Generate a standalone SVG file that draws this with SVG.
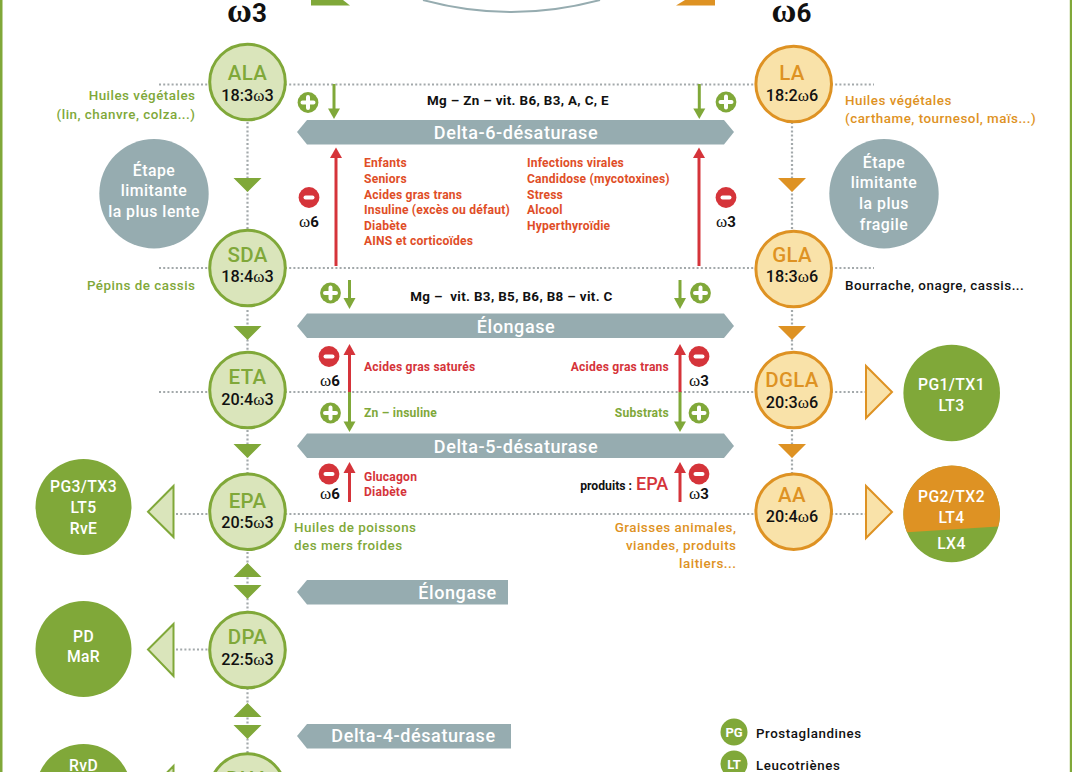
<svg xmlns="http://www.w3.org/2000/svg" width="1072" height="772" viewBox="0 0 1072 772">
<style>
text{font-family:"Roboto","Liberation Sans",sans-serif;font-weight:500}
.dot{stroke:#a3a9ab;stroke-width:2.2;stroke-dasharray:2 2.2;fill:none}
.g{fill:#80a839}.o{fill:#de9223}.r{fill:#d5343a}.w{fill:#fff}.b{fill:#96acb0}
.ng{fill:#dae5bb;stroke:#80a839;stroke-width:3}
.no{fill:#f9e2a9;stroke:#de9223;stroke-width:3}
.nm{font-size:20.5px;text-anchor:middle;letter-spacing:.3px}
.fa{font-size:16.2px;text-anchor:middle;fill:#111}
text .om{font-family:"Liberation Serif",serif;font-size:17px;font-weight:400}
.src{font-size:13.4px;letter-spacing:.5px}
.enz{font-size:18px;fill:#fff;text-anchor:middle;letter-spacing:.6px}
.red{font-size:12.1px;font-weight:700;letter-spacing:.2px}
.blk{font-size:13.4px;font-weight:700;fill:#111;text-anchor:middle;letter-spacing:.35px;white-space:pre}
.lim{font-size:15.8px;fill:#fff;text-anchor:middle;letter-spacing:.5px}
.eic{font-size:15.7px;fill:#fff;text-anchor:middle;letter-spacing:.4px}
.sig{font-size:15px;font-weight:700;fill:#111;text-anchor:middle}
.lg{font-size:13.3px;fill:#111;letter-spacing:.6px}
.ttl{font-size:26px;font-weight:700;text-anchor:middle;fill:#111}
text .tom{font-family:"Liberation Serif",serif;font-size:34px;font-weight:700}
.pic{font-size:13px;font-weight:700;fill:#fff;text-anchor:middle}
.prod{font-size:12.2px;font-weight:700;fill:#111;text-anchor:end}
.epa{font-size:18px;font-weight:500}
.gs{stroke:#80a839;stroke-width:3;fill:none}
.rs{stroke:#d5343a;stroke-width:3;fill:none}
</style>
<defs>
<g id="plus"><circle r="10.4" class="g"/><path d="M-5.500 0H5.500M0-5.500V5.500" stroke="#fff" stroke-width="4" stroke-linecap="round"/></g>
<g id="minus"><circle r="10.4" class="r"/><path d="M-3.500 0H3.500" stroke="#fff" stroke-width="4" stroke-linecap="round"/></g>
</defs>
<rect x="0" y="-4" width="2.500" height="780" class="g"/>
<rect x="1069.800" y="-4" width="2.500" height="780" class="g"/>

<g id="top-shapes">
<path d="M311 0H343L350 5.500H311Z" class="g"/>
<path d="M685 0H715V5.500H676Z" class="o"/>
<path d="M423 0Q511 24 600 0" fill="none" stroke="#96acb0" stroke-width="2"/>
</g>
<text class="ttl" x="247" y="22"><tspan class="tom">ω</tspan>3</text>
<text class="ttl" x="791.500" y="22"><tspan class="tom">ω</tspan>6</text>

<g id="connectors">
<path class="dot" d="M159 84.500H874M159 268H874M159 392H866M176 514H866M176 649.500H210"/>
<path class="dot" d="M247.500 122V232M247.500 310V354M247.500 430V474M247.500 552V612M247.500 688V754"/>
<path class="dot" d="M792 122V232M792 310V354M792 430V474"/>
<g class="g">
<path class="gs" d="M334 84V110"/><path d="M328 108.500H340L334 119Z"/>
<path class="gs" d="M699.300 84V110"/><path d="M693.300 108.500H705.300L699.300 119Z"/>
<path class="gs" d="M349.500 280V300"/><path d="M343.500 298H355.500L349.500 309Z"/>
<path class="gs" d="M680 280V300"/><path d="M674 298H686L680 309Z"/>
<path class="gs" d="M349.500 392V423"/><path d="M343.500 421.500H355.500L349.500 432Z"/>
<path class="gs" d="M680 392V423"/><path d="M674 421.500H686L680 432Z"/>
</g>
<g class="r">
<path class="rs" d="M336 156V266"/><path d="M330 158H342L336 147.500Z"/>
<path class="rs" d="M699 156V266"/><path d="M693 158H705L699 147.500Z"/>
<path class="rs" d="M349.500 353V392"/><path d="M343.500 355H355.500L349.500 344Z"/>
<path class="rs" d="M680 353V392"/><path d="M674 355H686L680 344Z"/>
<path class="rs" d="M349.500 471V502"/><path d="M343.500 473H355.500L349.500 462Z"/>
<path class="rs" d="M680 471V502"/><path d="M674 473H686L680 462Z"/>
</g>
</g>

<g id="flow-arrows">
<path class="g" d="M233.500 178H261.500L247.500 192Z M233.500 326H261.500L247.500 340Z M233.500 444H261.500L247.500 458Z M233.500 577H261.500L247.500 563Z M233.500 585H261.500L247.500 599Z M233.500 717H261.500L247.500 703Z M233.500 725H261.500L247.500 739Z"/>
<path class="o" d="M778 178H806L792 192Z M778 326H806L792 340Z M778 444H806L792 458Z"/>
<path d="M173.500 486V537L148 511.700Z M173.500 624V676L148 649.500Z M173.500 766V818L148 792Z" fill="#dae5bb" stroke="#80a839" stroke-width="2"/>
<path d="M866 366V418L892 392Z M866 486V538L892 512Z" fill="#f9e2a9" stroke="#de9223" stroke-width="2"/>
</g>

<g id="enzymes">
<path class="b" d="M297 132L307 120H724L734 132L724 144.500H307Z"/>
<path class="b" d="M297 326L307 313.500H724L734 326L724 338H307Z"/>
<path class="b" d="M297 446L307 433.500H724L734 446L724 458H307Z"/>
<path class="b" d="M297 592L307 580H508V604.500H307Z"/>
<path class="b" d="M297 736L307 724H511V748.500H307Z"/>
<text class="enz" x="516" y="138.500">Delta-6-désaturase</text>
<text class="enz" x="516" y="332.500">Élongase</text>
<text class="enz" x="516" y="453">Delta-5-désaturase</text>
<text class="enz" x="457.500" y="598.500">Élongase</text>
<text class="enz" x="413.500" y="742">Delta-4-désaturase</text>
</g>

<g id="node-ALA"><circle class="ng" cx="247.500" cy="82" r="37.800"/><text class="nm g" x="247.500" y="80">ALA</text><text class="fa" x="247.500" y="101">18:3<tspan class="om">ω</tspan>3</text></g>
<g id="node-SDA"><circle class="ng" cx="247.500" cy="268" r="37.800"/><text class="nm g" x="247.500" y="262">SDA</text><text class="fa" x="247.500" y="282">18:4<tspan class="om">ω</tspan>3</text></g>
<g id="node-ETA"><circle class="ng" cx="247.500" cy="390" r="37.800"/><text class="nm g" x="247.500" y="384">ETA</text><text class="fa" x="247.500" y="405">20:4<tspan class="om">ω</tspan>3</text></g>
<g id="node-EPA"><circle class="ng" cx="247.500" cy="511.700" r="37.800"/><text class="nm g" x="247.500" y="508">EPA</text><text class="fa" x="247.500" y="528">20:5<tspan class="om">ω</tspan>3</text></g>
<g id="node-DPA"><circle class="ng" cx="247.500" cy="650" r="37.800"/><text class="nm g" x="247.500" y="644">DPA</text><text class="fa" x="247.500" y="665">22:5<tspan class="om">ω</tspan>3</text></g>
<g id="node-DHA"><circle class="ng" cx="247.500" cy="791.500" r="37.800"/><text class="nm g" x="247.500" y="786">DHA</text></g>

<g id="node-LA"><circle class="no" cx="793.700" cy="84" r="37.800"/><text class="nm o" x="792" y="80">LA</text><text class="fa" x="792" y="101">18:2<tspan class="om">ω</tspan>6</text></g>
<g id="node-GLA"><circle class="no" cx="793.700" cy="269" r="37.800"/><text class="nm o" x="792" y="262">GLA</text><text class="fa" x="792" y="282">18:3<tspan class="om">ω</tspan>6</text></g>
<g id="node-DGLA"><circle class="no" cx="793.700" cy="390" r="37.800"/><text class="nm o" x="792" y="386.700">DGLA</text><text class="fa" x="792" y="407.700">20:3<tspan class="om">ω</tspan>6</text></g>
<g id="node-AA"><circle class="no" cx="793.700" cy="511.700" r="37.800"/><text class="nm o" x="792" y="501.700">AA</text><text class="fa" x="792" y="522">20:4<tspan class="om">ω</tspan>6</text></g>

<g id="limit-left"><circle class="b" cx="154" cy="193.700" r="54.700"/><text class="lim" x="154" y="175.500">Étape</text><text class="lim" x="154" y="196">limitante</text><text class="lim" x="154" y="216.500">la plus lente</text></g>
<g id="limit-right"><circle class="b" cx="884" cy="193.700" r="54.700"/><text class="lim" x="884" y="167.500">Étape</text><text class="lim" x="884" y="188">limitante</text><text class="lim" x="884" y="209">la plus</text><text class="lim" x="884" y="230">fragile</text></g>

<g id="eic-PG3"><circle class="g" cx="83.500" cy="507" r="48"/><text class="eic" x="83.500" y="492">PG3/TX3</text><text class="eic" x="83.500" y="513">LT5</text><text class="eic" x="83.500" y="534">RvE</text></g>
<g id="eic-PD"><circle class="g" cx="83.500" cy="649" r="48"/><text class="eic" x="83.500" y="642">PD</text><text class="eic" x="83.500" y="662">MaR</text></g>
<g id="eic-RvD"><circle class="g" cx="83.500" cy="792" r="48"/><text class="eic" x="83.500" y="771">RvD</text></g>
<g id="eic-PG1"><circle class="g" cx="951.700" cy="393" r="48.300"/><text class="eic" x="951.500" y="390">PG1/TX1</text><text class="eic" x="951.500" y="410.700">LT3</text></g>
<g id="eic-PG2"><circle class="g" cx="951.700" cy="514" r="48.300"/><path class="o" d="M907 532.300A48.300 48.300 0 1 1 998.300 526.500Z"/><text class="eic" x="951.500" y="501.700">PG2/TX2</text><text class="eic" x="951.500" y="522.700">LT4</text><text class="eic" x="951.500" y="549">LX4</text></g>

<g id="sources">
<text class="src g" x="195.500" y="100" text-anchor="end">Huiles végétales</text>
<text class="src g" x="195.500" y="119" text-anchor="end">(lin, chanvre, colza...)</text>
<text class="src g" x="195.500" y="290" text-anchor="end">Pépins de cassis</text>
<text class="src o" x="845" y="105">Huiles végétales</text>
<text class="src o" x="845" y="123">(carthame, tournesol, maïs...)</text>
<text class="src" fill="#111" x="845" y="290">Bourrache, onagre, cassis...</text>
<text class="src g" x="294" y="532">Huiles de poissons</text>
<text class="src g" x="294" y="550">des mers froides</text>
<text class="src o" x="736.500" y="532" text-anchor="end">Graisses animales,</text>
<text class="src o" x="736.500" y="550" text-anchor="end">viandes, produits</text>
<text class="src o" x="736.500" y="568" text-anchor="end">laitiers...</text>
</g>

<g id="cofactors">
<text class="blk" x="518" y="105">Mg – Zn – vit. B6, B3, A, C, E</text>
<text class="blk" x="511.500" y="301">Mg –  vit. B3, B5, B6, B8 – vit. C</text>
<g fill="#e04e27">
<text class="red" x="364" y="167">Enfants</text><text class="red" x="364" y="183">Seniors</text><text class="red" x="364" y="198.500">Acides gras trans</text><text class="red" x="364" y="214">Insuline (excès ou défaut)</text><text class="red" x="364" y="230">Diabète</text><text class="red" x="364" y="245">AINS et corticoïdes</text>
<text class="red" x="527" y="167">Infections virales</text><text class="red" x="527" y="183">Candidose (mycotoxines)</text><text class="red" x="527" y="198.500">Stress</text><text class="red" x="527" y="214">Alcool</text><text class="red" x="527" y="230">Hyperthyroïdie</text>
</g>
<text class="red r" x="364" y="371">Acides gras saturés</text>
<text class="red r" x="669" y="371" text-anchor="end">Acides gras trans</text>
<text class="red g" x="364" y="417">Zn – insuline</text>
<text class="red g" x="669" y="417" text-anchor="end">Substrats</text>
<text class="red r" x="364" y="481">Glucagon</text>
<text class="red r" x="364" y="496">Diabète</text>
<text class="prod" x="632" y="490">produits :</text>
<text class="epa r" x="636" y="490">EPA</text>
</g>

<g id="signs">
<use href="#plus" x="308" y="102.500"/><use href="#plus" x="726" y="102"/>
<use href="#minus" x="309" y="197.500"/><use href="#minus" x="726" y="197.500"/>
<use href="#plus" x="330.500" y="293"/><use href="#plus" x="700.500" y="293"/>
<use href="#minus" x="329" y="356.500"/><use href="#minus" x="699" y="356.500"/>
<use href="#plus" x="330.500" y="413"/><use href="#plus" x="699" y="413"/>
<use href="#minus" x="329" y="474"/><use href="#minus" x="699" y="474"/>
<text class="sig" x="309" y="227"><tspan class="om">ω</tspan>6</text>
<text class="sig" x="726" y="227"><tspan class="om">ω</tspan>3</text>
<text class="sig" x="330" y="386"><tspan class="om">ω</tspan>6</text>
<text class="sig" x="699" y="386"><tspan class="om">ω</tspan>3</text>
<text class="sig" x="330" y="499"><tspan class="om">ω</tspan>6</text>
<text class="sig" x="699" y="499"><tspan class="om">ω</tspan>3</text>
</g>

<g id="legend">
<circle class="g" cx="734" cy="732" r="13.500"/><text class="pic" x="734" y="737">PG</text><text class="lg" x="756" y="738">Prostaglandines</text>
<circle class="g" cx="734" cy="764" r="13.500"/><text class="pic" x="734" y="769">LT</text><text class="lg" x="756" y="770">Leucotriènes</text>
</g>
</svg>
